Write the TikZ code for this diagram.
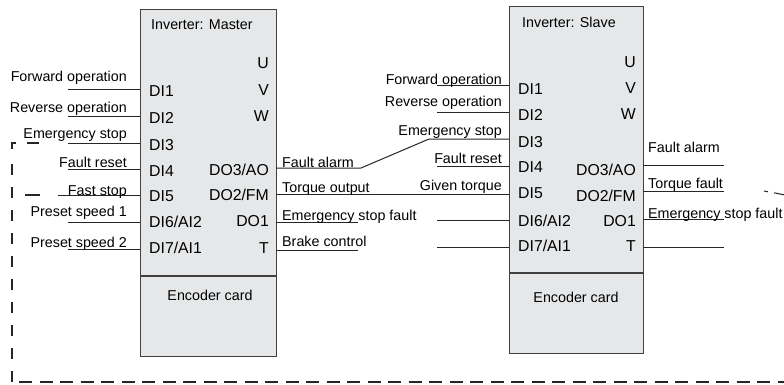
\documentclass[tikz,border=0pt]{standalone}
\usepackage{fontspec}
\setmainfont{Liberation Sans}
\begin{document}
\begin{tikzpicture}[x=1pt,y=-1pt,
  box/.style={draw=black!75,line width=1.1pt,fill=boxgrey,inner sep=0pt,anchor=north west},
  lbl/.style={inner sep=0pt,font=\fontsize{14.3}{16}\selectfont,text=black},
  pin/.style={inner sep=0pt,font=\fontsize{15.8}{18}\selectfont,text=black},
  wire/.style={draw=black!85,line width=1pt},
  dline/.style={draw=black!85,line width=1.3pt},
  dashv/.style={dline,dash pattern=on 11pt off 12pt},
  dashh/.style={dline,dash pattern=on 13pt off 7.5pt}]
\definecolor{boxgrey}{HTML}{E6E7E8}
\useasboundingbox (0,0) rectangle (784,384);
% boxes
\node[box,minimum width=136pt,minimum height=347pt] (M) at (140,9) {};
\node[box,minimum width=134pt,minimum height=347pt] (S) at (509,6) {};
\draw[draw=black!75,line width=1.1pt] (M.west |- 0,276) -- (M.east |- 0,276);
\draw[draw=black!75,line width=1.1pt] (S.west |- 0,273) -- (S.east |- 0,273);
\node[lbl,anchor=base west] (mt) at (151,29.5) {Inverter: Master};
\node[lbl,anchor=base west] (st) at (522,27) {Inverter: Slave};
\node[lbl,anchor=base] (me) at (210,300) {Encoder card};
\node[lbl,anchor=base] (se) at (576,302) {Encoder card};
% master pins
\node[pin,anchor=base west] (mdi1) at (149,96.5) {DI1};
\node[pin,anchor=base west] (mdi2) at (149,123) {DI2};
\node[pin,anchor=base west] (mdi3) at (149,150) {DI3};
\node[pin,anchor=base west] (mdi4) at (149,176) {DI4};
\node[pin,anchor=base west] (mdi5) at (149,201) {DI5};
\node[pin,anchor=base west] (mdi6) at (149,227) {DI6/AI2};
\node[pin,anchor=base west] (mdi7) at (149,253) {DI7/AI1};
\node[pin,anchor=base east] (mu) at (269,68) {U};
\node[pin,anchor=base east] (mv) at (269,95) {V};
\node[pin,anchor=base east] (mw) at (269,121.5) {W};
\node[pin,anchor=base east] (mdo3) at (269,175) {DO3/AO};
\node[pin,anchor=base east] (mdo2) at (269,200) {DO2/FM};
\node[pin,anchor=base east] (mdo1) at (269,226.5) {DO1};
\node[pin,anchor=base east] (mt2) at (269,253) {T};
% slave pins
\node[pin,anchor=base west] (sdi1) at (518,94) {DI1};
\node[pin,anchor=base west] (sdi2) at (518,120.5) {DI2};
\node[pin,anchor=base west] (sdi3) at (518,147) {DI3};
\node[pin,anchor=base west] (sdi4) at (518,172) {DI4};
\node[pin,anchor=base west] (sdi5) at (518,198) {DI5};
\node[pin,anchor=base west] (sdi6) at (518,226) {DI6/AI2};
\node[pin,anchor=base west] (sdi7) at (518,251.5) {DI7/AI1};
\node[pin,anchor=base east] (su) at (636,67) {U};
\node[pin,anchor=base east] (sv) at (636,93) {V};
\node[pin,anchor=base east] (sw) at (636,119) {W};
\node[pin,anchor=base east] (sdo3) at (636,175.5) {DO3/AO};
\node[pin,anchor=base east] (sdo2) at (636,201) {DO2/FM};
\node[pin,anchor=base east] (sdo1) at (636,226.5) {DO1};
\node[pin,anchor=base east] (st2) at (636,251.5) {T};
% master inputs
\foreach \n/\y in {1/89,2/116,3/143,4/169,5/195,6/222,7/249}{
  \coordinate (mi\n) at (140,\y);}
\foreach \n/\y/\x in {1/89/68,2/116/68,3/143/68,4/169/68,5/195/58,6/222/68,7/249/68}{
  \coordinate (mf\n) at (\x,\y);
  \draw[wire] (mf\n) -- (mi\n);}
\node[lbl,anchor=base east] (l1) at (127,81) {Forward operation};
\node[lbl,anchor=base east] (l2) at (127,112) {Reverse operation};
\node[lbl,anchor=base east] (l3) at (127,138) {Emergency stop};
\node[lbl,anchor=base east] (l4) at (127,167) {Fault reset};
\node[lbl,anchor=base east] (l5) at (127,195) {Fast stop};
\node[lbl,anchor=base east] (l6) at (127,216) {Preset speed 1};
\node[lbl,anchor=base east] (l7) at (127,247) {Preset speed 2};
% master outputs
\coordinate (mo3) at (276,168);
\coordinate (mo2) at (276,194.5);
\coordinate (mo1) at (276,222);
\coordinate (mo0) at (276,250);
\coordinate (k1) at (361,168);
\coordinate (k2) at (429,139);
\coordinate (mf1o) at (358,222);
\coordinate (mf0o) at (358,250);
% slave inputs
\foreach \n/\y in {1/85,2/112,3/139,4/166,5/194.5,6/220,7/247}{
  \coordinate (si\n) at (509,\y);}
\foreach \n/\y in {1/85,2/112,4/166,6/220,7/247}{
  \coordinate (sf\n) at (437,\y);
  \draw[wire] (sf\n) -- (si\n);}
\draw[wire] (mo3) -- (k1) -- (k2) -- (si3);
\draw[wire] (mo2) -- (si5);
\draw[wire] (mo1) -- (mf1o);
\draw[wire] (mo0) -- (mf0o);
\node[lbl,anchor=base west] (r1) at (282,167.5) {Fault alarm};
\node[lbl,anchor=base west] (r2) at (282,192) {Torque output};
\node[lbl,anchor=base west] (r3) at (282,220) {Emergency stop fault};
\node[lbl,anchor=base west] (r4) at (282,246) {Brake control};
\node[lbl,anchor=base east] (s1) at (502,84) {Forward operation};
\node[lbl,anchor=base east] (s2) at (502,106) {Reverse operation};
\node[lbl,anchor=base east] (s3) at (502,135) {Emergency stop};
\node[lbl,anchor=base east] (s4) at (502,163) {Fault reset};
\node[lbl,anchor=base east] (s5) at (502,190) {Given torque};
% slave outputs
\foreach \n/\y in {3/165,2/191,1/219,0/247}{
  \coordinate (so\n) at (643,\y);
  \coordinate (sx\n) at (724,\y);
  \draw[wire] (so\n) -- (sx\n);}
\node[lbl,anchor=base west] (q1) at (648,152.5) {Fault alarm};
\node[lbl,anchor=base west] (q2) at (648,188) {Torque fault};
\node[lbl,anchor=base west] (q3) at (648,218) {Emergency stop fault};
% dashed loop
\coordinate (d0) at (12,143);
\coordinate (d1) at (12,382);
\coordinate (d2) at (784,382);
\draw[dline] (12,149) -- (d0) -- (16,143);
\draw[dline] (27,143) -- (39,143);
\draw[dashv] (d1) -- (12,160);
\draw[dashh] (19,382) -- (d2);
\draw[dline] (25,195) -- (40,195);
\draw[dline,line width=1pt] (764,191) -- (768,191.8);
\draw[dline,line width=1pt] (774,192.8) -- (784,194.8);
\end{tikzpicture}
\end{document}
